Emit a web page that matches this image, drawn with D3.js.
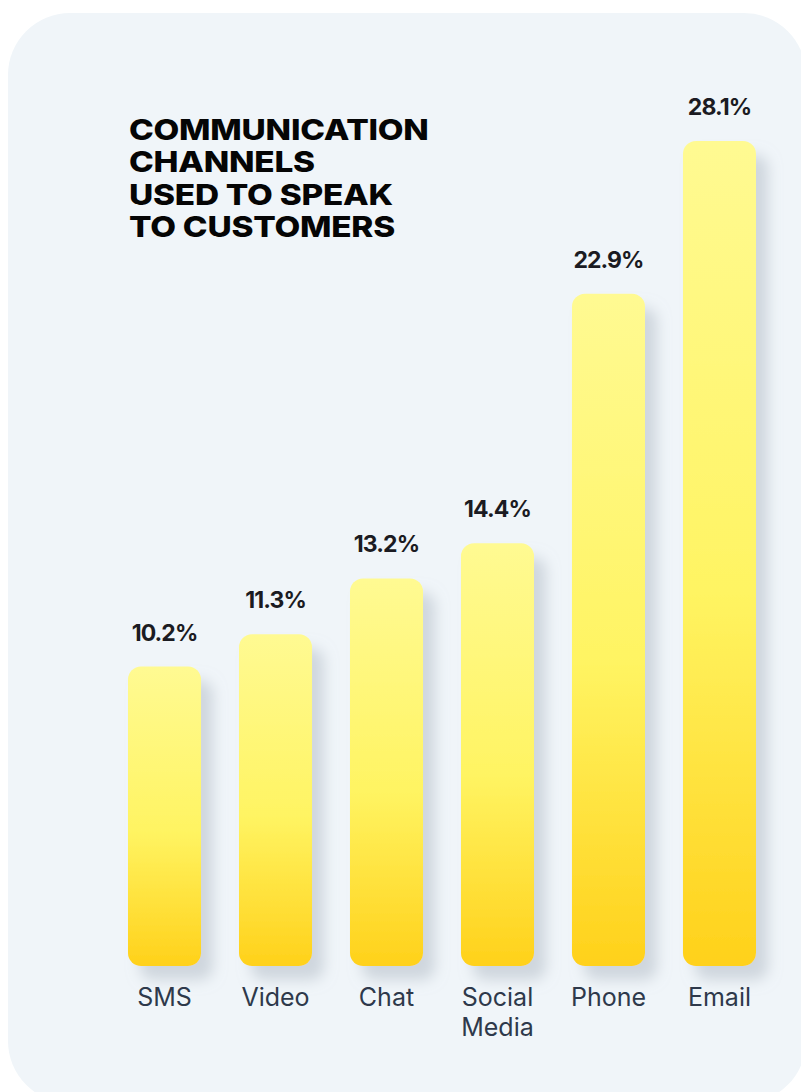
<!DOCTYPE html>
<html>
<head>
<meta charset="utf-8">
<script src="https://cdn.jsdelivr.net/npm/d3@7"></script>
<style>
  html, body { margin: 0; padding: 0; background: #ffffff; }
  svg { display: block; }
</style>
</head>
<body>
<script>
// Communication channels bar chart
var categories = ["SMS", "Video", "Chat", "Social Media", "Phone", "Email"];
var values = [10.2, 11.3, 13.2, 14.4, 22.9, 28.1];
var valueLabels = ["10.2%", "11.3%", "13.2%", "14.4%", "22.9%", "28.1%"];
var titleLines = ["COMMUNICATION", "CHANNELS", "USED TO SPEAK", "TO CUSTOMERS"];

var width = 801, height = 1092;
var baseY = 966;

var svg = d3.select("body").append("svg")
    .attr("width", width)
    .attr("height", height);

var defs = svg.append("defs");

// bar gradient: pale on top, deep yellow at the bottom
var grad = defs.append("linearGradient")
    .attr("id", "barGrad")
    .attr("x1", 0).attr("y1", 0).attr("x2", 0).attr("y2", 1);
grad.append("stop").attr("offset", "0%").attr("stop-color", "#fffa92");
grad.append("stop").attr("offset", "55%").attr("stop-color", "#fff462");
grad.append("stop").attr("offset", "100%").attr("stop-color", "#ffd11a");

var shadow = defs.append("filter")
    .attr("id", "barShadow")
    .attr("x", "-40%").attr("y", "-20%")
    .attr("width", "200%").attr("height", "150%");
shadow.append("feDropShadow")
    .attr("dx", 12).attr("dy", 14)
    .attr("stdDeviation", 7)
    .attr("flood-color", "#aeb7c2")
    .attr("flood-opacity", 0.5);

// card background
svg.append("rect")
    .attr("x", 8).attr("y", 13)
    .attr("width", 798).attr("height", 1090)
    .attr("rx", 62).attr("ry", 62)
    .attr("fill", "#f0f5f9");

var x = d3.scaleBand()
    .domain(categories)
    .range([128, 756])
    .paddingInner(0.342)
    .paddingOuter(0);

var y = d3.scaleLinear()
    .domain([0, 28.1])
    .range([baseY, 141]);

var bars = svg.append("g").attr("class", "bars");

bars.selectAll(".bar")
    .data(values)
    .enter()
    .append("rect")
    .attr("class", "bar")
    .attr("x", function(d, i) { return x(categories[i]); })
    .attr("y", function(d) { return y(d); })
    .attr("width", x.bandwidth())
    .attr("height", function(d) { return baseY - y(d); })
    .attr("rx", 13).attr("ry", 13)
    .attr("fill", "url(#barGrad)")
    .attr("filter", "url(#barShadow)");

// value labels above bars
svg.append("g").selectAll(".val")
    .data(values)
    .enter()
    .append("text")
    .attr("class", "val")
    .attr("x", function(d, i) { return x(categories[i]) + x.bandwidth() / 2; })
    .attr("y", function(d) { return y(d) - 26; })
    .attr("text-anchor", "middle")
    .style("font-family", "Inter, 'Liberation Sans', sans-serif")
    .style("font-weight", 700)
    .style("font-size", "23px")
    .style("letter-spacing", "-0.9px")
    .style("fill", "#1b1b22")
    .text(function(d, i) { return valueLabels[i]; });

// category labels (wrap on space for Social Media)
var cats = svg.append("g").selectAll(".cat")
    .data(categories)
    .enter()
    .append("text")
    .attr("class", "cat")
    .attr("text-anchor", "middle")
    .style("font-family", "Inter, 'Liberation Sans', sans-serif")
    .style("font-size", "25px")
    .style("fill", "#2e394b");

cats.each(function(d) {
    var words = d.split(" ");
    var t = d3.select(this);
    words.forEach(function(w, j) {
        t.append("tspan")
            .attr("x", x(d) + x.bandwidth() / 2)
            .attr("y", 1006 + j * 30)
            .text(w);
    });
});

// title, a wide grotesque in the original: stretch Inter a little
var titleG = svg.append("g")
    .attr("transform", "translate(129,0) scale(1.15,1)");

titleG.selectAll(".title")
    .data(titleLines)
    .enter()
    .append("text")
    .attr("class", "title")
    .attr("x", 0)
    .attr("y", function(d, i) { return 140 + i * 32.3; })
    .style("font-family", "Inter, 'Liberation Sans', sans-serif")
    .style("font-weight", 800)
    .style("font-size", "29px")
    .style("letter-spacing", "-0.2px")
    .style("fill", "#050505")
    .text(function(d) { return d; });
</script>
</body>
</html>
